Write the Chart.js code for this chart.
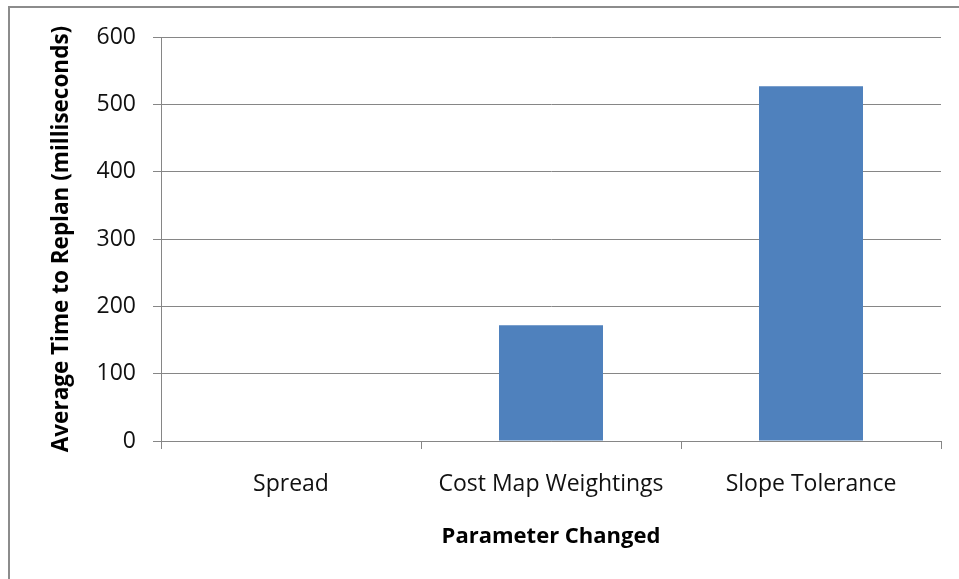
<!DOCTYPE html>
<html>
<head>
<meta charset="utf-8">
<script src="https://cdn.jsdelivr.net/npm/chart.js@4/dist/chart.umd.min.js"></script>
<style>
  html, body { margin: 0; padding: 0; background: #fff; overflow: hidden; }
  #frame { position: absolute; left: 8px; top: 6px; width: 1000px; height: 700px;
           border-left: 2px solid #8c8c8c; border-top: 2px solid #8c8c8c; }
  #wrap { position: absolute; left: 0; top: 0; width: 959px; height: 579px; }
</style>
</head>
<body>
<div id="frame"></div>
<div id="wrap"><canvas id="c" width="959" height="579"></canvas></div>
<script>
const categories = ['Spread', 'Cost Map Weightings', 'Slope Tolerance'];
const replanTimes = [0, 172, 527];
const yTicks = [0, 100, 200, 300, 400, 500, 600];

const gridGray = '#868686';
const font = "'Open Sans', sans-serif";

new Chart(document.getElementById('c'), {
  type: 'bar',
  data: {
    labels: categories,
    datasets: [{
      data: replanTimes,
      backgroundColor: '#4f81bd',
      borderWidth: 0,
      barPercentage: 0.4,
      categoryPercentage: 1.0
    }]
  },
  options: {
    responsive: false,
    animation: false,
    layout: { padding: { left: 0, top: 37, right: 18, bottom: 0 } },
    plugins: { legend: { display: false }, tooltip: { enabled: false } },
    scales: {
      x: {
        afterFit: s => { s.height = 138; },
        grid: { drawOnChartArea: false, drawTicks: true, tickLength: 8, color: gridGray, lineWidth: 1 },
        border: { color: gridGray, width: 1 },
        ticks: { color: '#111', padding: 22, maxRotation: 0, font: { family: font, size: 23 } },
        title: {
          display: true, text: 'Parameter Changed', color: '#000',
          font: { family: font, size: 22, weight: 'bold' },
          padding: { top: 0, bottom: 29 }
        }
      },
      y: {
        min: 0, max: 600,
        afterFit: s => { s.width = 161; },
        afterBuildTicks: s => { s.ticks = yTicks.map(v => ({ value: v })); },
        grid: { color: gridGray, lineWidth: 1, tickLength: 8 },
        border: { color: gridGray, width: 1 },
        ticks: { color: '#111', padding: 17, font: { family: font, size: 23 } },
        title: {
          display: true, text: 'Average Time to Replan (milliseconds)', color: '#000',
          font: { family: font, size: 22.5, weight: 'bold' },
          padding: { top: 48, bottom: 0 }
        }
      }
    }
  }
});
</script>
</body>
</html>
